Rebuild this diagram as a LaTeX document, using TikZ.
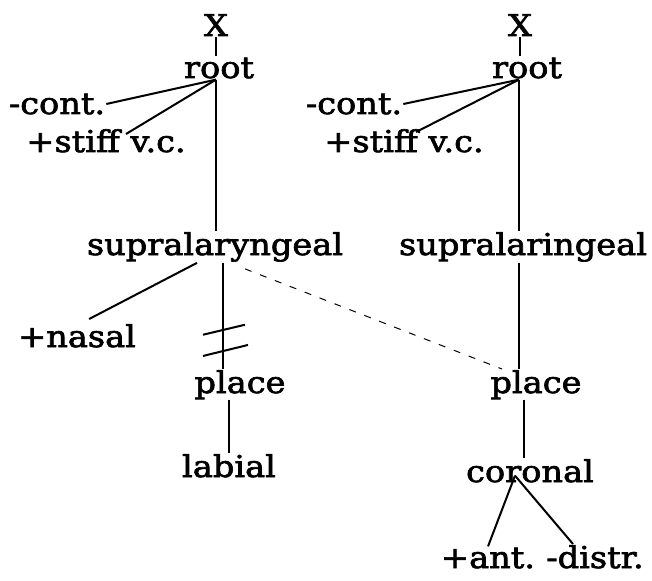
\documentclass[tikz,border=0pt]{standalone}
\usepackage{fontspec}
\setmainfont[FakeStretch=1.12,FakeBold=2.2]{DejaVu Serif}
\usetikzlibrary{calc}

\tikzset{
  feat/.style={anchor=base, inner sep=1pt, font=\fontsize{30}{33}\selectfont},
  branch/.style={line width=2pt},
  delink/.style={line width=1pt, dash pattern=on 7pt off 9pt},
}

\begin{document}
\begin{tikzpicture}[x=1pt,y=-1pt]

	%Background
	\useasboundingbox (0,0) rectangle (652,580);

	%Left tree
	\node[feat] (xL) at (216,36) {X};
	\node[feat] (rootL) at (219,78) {root};
	\node[feat] (contL) at (57,114) {-cont.};
	\node[feat] (stiffL) at (106,152) {+stiff v.c.};
	\node[feat] (supraL) at (215,255) {supralaryngeal};
	\node[feat] (nasal) at (77,347) {+nasal};
	\node[feat] (placeL) at (240,393) {place};
	\node[feat] (labial) at (229,477) {labial};

	\draw[branch] (xL.south) -- (xL.south |- rootL.north);
	\draw[branch] ([xshift=-3pt]rootL.south) -- (contL.east);
	\draw[branch] ([xshift=-3pt]rootL.south) -- ([xshift=20pt,yshift=-6pt]stiffL.north);
	\draw[branch] ([xshift=-3pt]rootL.south) -- ([xshift=-3pt]rootL.south |- supraL.north);
	\draw[branch] ([xshift=-18pt]supraL.south) -- ([xshift=-48pt,yshift=4pt]nasal.north east);
	\draw[branch] ([xshift=8pt]supraL.south) -- ([xshift=8pt]supraL.south |- placeL.north);

	%Delinking marks
	\draw[branch] ($([xshift=8pt]supraL.south)!0.63!([xshift=8pt]supraL.south |- placeL.north)+(-20,5)$) -- +(42,-10);
	\draw[branch] ($([xshift=8pt]supraL.south)!0.83!([xshift=8pt]supraL.south |- placeL.north)+(-20,5)$) -- +(45,-11);
	\draw[branch] ([xshift=-11pt]placeL.south) -- (labial.north);

	%Right tree
	\node[feat] (xR) at (520,36) {X};
	\node[feat] (rootR) at (527,78) {root};
	\node[feat] (contR) at (354,114) {-cont.};
	\node[feat] (stiffR) at (404,152) {+stiff v.c.};
	\node[feat] (supraR) at (523,255) {supralaringeal};
	\node[feat] (placeR) at (536,393) {place};
	\node[feat] (coronal) at (530,482) {coronal};
	\node[feat] (ant) at (488,568) {+ant.};
	\node[feat] (distr) at (595,568) {-distr.};

	\draw[branch] (xR.south) -- (xR.south |- rootR.north);
	\draw[branch] ([xshift=-8pt]rootR.south) -- (contR.east);
	\draw[branch] ([xshift=-8pt]rootR.south) -- ([xshift=12pt,yshift=-4pt]stiffR.north);
	\draw[branch] ([xshift=-8pt]rootR.south) -- ([xshift=-8pt]rootR.south |- supraR.north);
	\draw[branch] ([xshift=-4pt]supraR.south) -- ([xshift=-4pt]supraR.south |- placeR.north);
	\draw[branch] ([xshift=-12pt]placeR.south) -- ([xshift=-6pt]coronal.north);
	\draw[branch] ([xshift=-15pt,yshift=8pt]coronal.south) -- (ant.north);
	\draw[branch] ([xshift=-15pt,yshift=8pt]coronal.south) -- ([xshift=-22pt]distr.north);

	%Spreading
	\draw[delink] ([xshift=30pt,yshift=-6pt]supraL.south) -- ([xshift=-34pt]placeR.north);

\end{tikzpicture}
\end{document}
